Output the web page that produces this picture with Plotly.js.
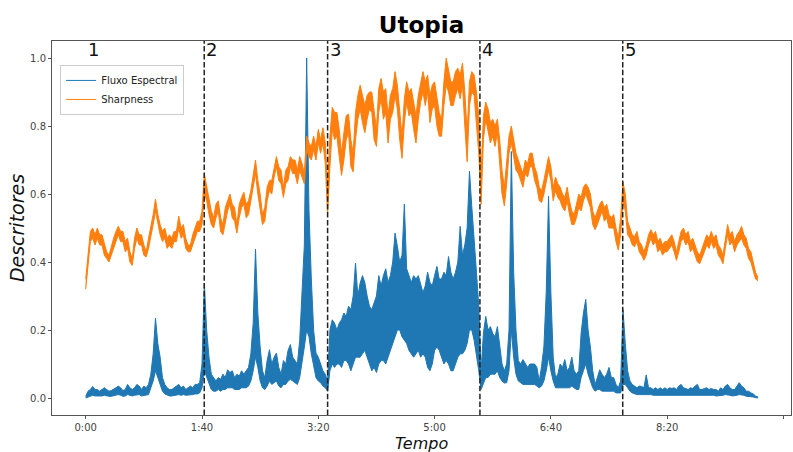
<!DOCTYPE html>
<html>
<head>
<meta charset="utf-8">
<script src="https://cdn.plot.ly/plotly-3.0.1.min.js"></script>
<style>
  html, body { margin: 0; padding: 0; background: #fff; }
  #chart { width: 793px; height: 452px; }
</style>
</head>
<body>
<div id="chart"></div>
<script>
// Both descriptors are summarised every 2 seconds (from 0:00) by the
// highest and lowest value reached inside each 2-second window.
const passoSegundos = 2;

// Fluxo Espectral (normalised spectral flux): window maxima and minima.
const fluxoMax = [
  .005, .02, .025, .034, .025, .025, .02, .025, .03, .025,
  .02, .022, .025, .03, .035, .03, .022, .025, .04, .03,
  .025, .03, .04, .035, .025, .035, .03, .04, .07, .13,
  .235, .16, .12, .06, .04, .03, .025, .025, .03, .035,
  .04, .03, .035, .025, .03, .035, .03, .04, .04, .045,
  .10, .338, .20, .12, .07, .06, .05, .06, .055, .07,
  .06, .083, .075, .08, .06, .07, .064, .08, .07, .08,
  .09, .13, .22, .438, .25, .15, .08, .06, .11, .142,
  .10, .12, .132, .09, .07, .11, .10, .14, .157, .12,
  .11, .10, .17, .30, .45, 1.0, .55, .35, .20, .132,
  .12, .10, .08, .07, .05, .20, .23, .22, .20, .22,
  .23, .25, .24, .27, .26, .30, .397, .30, .338, .36,
  .34, .30, .27, .26, .28, .30, .36, .33, .36, .38,
  .34, .36, .40, .485, .446, .40, .42, .57, .38, .36,
  .34, .36, .35, .36, .33, .31, .33, .37, .34, .33,
  .36, .387, .35, .35, .37, .36, .416, .37, .35, .37,
  .40, .505, .42, .45, .50, .667, .563, .45, .37, .27,
  .08, .19, .24, .20, .21, .19, .18, .21, .15, .10,
  .08, .10, .20, .725, .37, .20, .11, .10, .113, .10,
  .09, .10, .10, .10, .09, .05, .093, .15, .31, .593,
  .31, .12, .06, .07, .10, .09, .113, .08, .09, .12,
  .08, .07, .08, .19, .25, .29, .20, .15, .08, .04,
  .06, .083, .07, .06, .07, .09, .06, .06, .04, .03,
  .05, .26, .16, .08, .05, .04, .035, .03, .035, .034,
  .03, .068, .03, .03, .025, .03, .025, .03, .025, .03,
  .025, .03, .028, .03, .025, .035, .04, .03, .028, .025,
  .03, .028, .035, .04, .025, .025, .028, .03, .025, .028,
  .025, .025, .02, .03, .025, .035, .04, .03, .025, .025,
  .035, .045, .035, .03, .02, .02, .015, .012, .006, .003
];
const fluxoMin = [
  0, .003, .005, .008, .006, .006, .005, .006, .008, .006,
  .005, .005, .006, .008, .01, .008, .005, .006, .01, .008,
  .006, .008, .01, .01, .006, .008, .008, .01, .03, .05,
  .08, .06, .04, .02, .012, .008, .006, .006, .008, .008,
  .01, .008, .01, .008, .008, .01, .01, .012, .012, .015,
  .03, .08, .06, .04, .025, .02, .02, .025, .02, .025,
  .025, .03, .03, .03, .025, .025, .025, .03, .03, .03,
  .035, .05, .08, .12, .09, .05, .03, .025, .035, .05,
  .04, .045, .05, .035, .03, .04, .04, .05, .055, .05,
  .045, .04, .06, .10, .15, .20, .18, .13, .09, .06,
  .05, .045, .035, .03, .02, .08, .10, .09, .10, .10,
  .09, .11, .11, .10, .08, .10, .12, .12, .12, .13,
  .14, .12, .10, .08, .09, .075, .10, .11, .11, .10,
  .12, .14, .16, .18, .20, .20, .18, .17, .16, .14,
  .13, .12, .13, .14, .12, .13, .12, .09, .08, .10,
  .14, .15, .14, .12, .10, .11, .10, .08, .08, .10,
  .12, .13, .13, .14, .16, .20, .20, .17, .13, .08,
  .025, .04, .06, .06, .07, .07, .07, .08, .06, .05,
  .044, .045, .08, .20, .12, .07, .05, .045, .04, .04,
  .04, .04, .04, .04, .035, .03, .035, .05, .08, .12,
  .08, .05, .03, .03, .03, .03, .03, .03, .03, .035,
  .03, .025, .025, .06, .08, .10, .07, .05, .03, .02,
  .025, .025, .02, .02, .02, .02, .02, .02, .015, .015,
  .015, .04, .04, .03, .02, .015, .012, .01, .01, .01,
  .01, .012, .01, .01, .008, .008, .008, .01, .008, .008,
  .008, .01, .008, .008, .008, .01, .01, .01, .008, .008,
  .01, .008, .01, .01, .008, .008, .008, .008, .008, .008,
  .008, .006, .006, .008, .008, .01, .01, .008, .006, .006,
  .008, .01, .01, .008, .005, .005, .004, .003, .001, 0
];

// Sharpness (normalised): window maxima and minima.
const sharpnessMax = [
  .35, .43, .49, .50, .48, .50, .48, .48, .45, .43,
  .42, .45, .47, .49, .505, .49, .49, .46, .47, .43,
  .41, .47, .50, .48, .48, .45, .43, .47, .50, .54,
  .585, .54, .51, .49, .50, .47, .48, .47, .49, .49,
  .535, .50, .51, .47, .45, .45, .48, .50, .52, .52,
  .55, .66, .62, .58, .55, .53, .57, .58, .53, .51,
  .56, .58, .60, .57, .56, .51, .57, .59, .605, .57,
  .58, .61, .65, .70, .64, .60, .54, .56, .62, .64,
  .64, .68, .71, .68, .67, .62, .67, .68, .71, .70,
  .70, .67, .71, .69, .66, .77, .75, .74, .77, .74,
  .79, .76, .795, .75, .62, .77, .855, .84, .84, .79,
  .72, .78, .83, .835, .76, .72, .84, .89, .92, .89,
  .86, .89, .90, .90, .84, .79, .91, .94, .90, .91,
  .83, .89, .91, .96, .92, .84, .77, .88, .93, .90,
  .91, .87, .83, .89, .93, .96, .93, .95, .89, .92,
  .93, .88, .84, .82, .93, 1.0, .96, .93, .93, .96,
  .97, .95, .985, .90, .78, .93, .96, .95, .90, .83,
  .66, .83, .87, .85, .81, .82, .80, .82, .76, .67,
  .62, .69, .77, .80, .76, .72, .70, .68, .66, .70,
  .69, .72, .72, .68, .66, .62, .61, .64, .68, .71,
  .68, .62, .65, .63, .62, .60, .59, .62, .58, .55,
  .54, .57, .60, .59, .62, .63, .62, .60, .55, .53,
  .55, .57, .58, .56, .57, .54, .53, .54, .50, .47,
  .53, .635, .60, .52, .50, .48, .475, .49, .46, .45,
  .43, .45, .48, .495, .48, .49, .46, .47, .45, .46,
  .46, .47, .48, .46, .43, .46, .49, .50, .48, .49,
  .46, .47, .45, .43, .42, .44, .46, .48, .47, .49,
  .47, .48, .45, .44, .42, .47, .51, .48, .49, .46,
  .48, .49, .505, .48, .47, .44, .43, .40, .37, .355
];
const sharpnessMin = [
  .32, .40, .46, .47, .45, .47, .45, .45, .42, .41,
  .40, .42, .44, .46, .48, .46, .46, .43, .44, .40,
  .39, .44, .47, .45, .45, .42, .415, .44, .47, .51,
  .55, .51, .48, .46, .47, .44, .45, .44, .46, .46,
  .50, .47, .48, .44, .43, .43, .45, .47, .49, .49,
  .51, .60, .58, .54, .51, .50, .53, .55, .49, .48,
  .52, .55, .57, .53, .52, .485, .53, .56, .57, .53,
  .54, .58, .61, .66, .60, .56, .51, .52, .58, .61,
  .60, .65, .68, .64, .63, .59, .63, .64, .68, .66,
  .66, .63, .67, .65, .63, .73, .71, .70, .73, .70,
  .75, .72, .75, .69, .54, .68, .79, .76, .77, .71,
  .655, .70, .76, .78, .68, .665, .76, .82, .85, .81,
  .78, .82, .85, .84, .76, .74, .84, .88, .82, .84,
  .75, .82, .84, .89, .85, .76, .705, .81, .87, .83,
  .84, .79, .75, .82, .87, .90, .86, .90, .81, .85,
  .86, .80, .77, .77, .86, .92, .90, .86, .86, .89,
  .91, .88, .92, .80, .695, .86, .90, .89, .81, .72,
  .57, .76, .82, .79, .75, .77, .74, .78, .69, .60,
  .565, .63, .72, .75, .71, .67, .66, .64, .62, .66,
  .65, .68, .68, .64, .62, .58, .575, .60, .64, .67,
  .64, .58, .61, .59, .58, .56, .55, .58, .54, .51,
  .51, .53, .56, .55, .58, .60, .58, .56, .51, .495,
  .51, .53, .55, .52, .53, .50, .50, .50, .46, .435,
  .48, .58, .55, .48, .47, .45, .445, .46, .43, .42,
  .405, .42, .45, .47, .45, .46, .43, .44, .42, .43,
  .43, .44, .45, .43, .405, .43, .46, .47, .45, .46,
  .43, .44, .42, .40, .395, .41, .43, .45, .44, .46,
  .44, .45, .42, .41, .395, .44, .48, .45, .46, .43,
  .45, .46, .47, .45, .44, .41, .40, .375, .35, .345
];

// Section boundaries (seconds) and the section numbers written at the top.
const divisoes = [101.9, 208, 339, 461.8];
const inicioSecoes = [0, 101.9, 208, 339, 461.8];
const rotulosSecoes = ['1', '2', '3', '4', '5'];

// Axis ticks.
const tempoTicks = [0, 100, 200, 300, 400, 500, 600];
const tempoRotulos = ['0:00', '1:40', '3:20', '5:00', '6:40', '8:20', '10:00'];
const descritorTicks = [0, 0.2, 0.4, 0.6, 0.8, 1.0];

const tempo = fluxoMax.map((_, i) => i * passoSegundos);

const fonte = 'DejaVu Sans, Verdana, sans-serif';
const azul = '#1f77b4';
const laranja = '#ff7f0e';

// Each descriptor is drawn as the band between its window minima and maxima;
// the minima trace carries the legend entry so the legend shows a plain line.
function faixa(nome, minimos, maximos, cor) {
  return [
    {
      x: tempo, y: minimos, type: 'scatter', mode: 'lines',
      name: nome, legendgroup: nome, showlegend: true,
      line: { color: cor, width: 1 }
    },
    {
      x: tempo, y: maximos, type: 'scatter', mode: 'lines',
      name: nome, legendgroup: nome, showlegend: false,
      fill: 'tonexty', fillcolor: cor,
      line: { color: cor, width: 1 }
    }
  ];
}

const traces = []
  .concat(faixa('Fluxo Espectral', fluxoMin, fluxoMax, azul))
  .concat(faixa('Sharpness', sharpnessMin, sharpnessMax, laranja));

const shapes = divisoes.map(d => ({
  type: 'line', xref: 'x', yref: 'paper',
  x0: d, x1: d, y0: 0, y1: 1,
  line: { color: '#222', width: 1.5, dash: '5.5px,2.4px' }
}));

const annotations = rotulosSecoes.map((r, i) => ({
  x: inicioSecoes[i], y: 1.0, xref: 'x', yref: 'y',
  text: r, showarrow: false,
  xanchor: 'left', yanchor: 'bottom',
  xshift: 0, yshift: -4,
  font: { family: fonte, size: 18, color: '#111' }
}));

// x-axis title, set just below the tick labels
annotations.push({
  x: 0.5, y: 0, xref: 'paper', yref: 'paper',
  text: 'Tempo', showarrow: false,
  xanchor: 'center', yanchor: 'top', yshift: -17,
  font: { family: fonte, size: 16, color: '#111', style: 'italic' }
});

const eixoComum = {
  showline: true, mirror: true, linecolor: '#555', linewidth: 1,
  ticks: 'outside', ticklen: 3, tickcolor: '#555', tickwidth: 1,
  showgrid: false, zeroline: false,
  tickfont: { family: fonte, size: 10, color: '#444' }
};

const layout = {
  width: 793, height: 452,
  margin: { l: 52, r: 2, t: 41, b: 37 },
  paper_bgcolor: '#fff', plot_bgcolor: '#fff',
  title: {
    text: '<b>Utopia</b>',
    font: { family: fonte, size: 23, color: '#000' },
    x: 0.5, xref: 'paper', xanchor: 'center',
    y: 0.945, yref: 'container', yanchor: 'middle'
  },
  xaxis: Object.assign({}, eixoComum, {
    range: [-29, 606.5],
    tickvals: tempoTicks, ticktext: tempoRotulos
  }),
  yaxis: Object.assign({}, eixoComum, {
    range: [-0.05, 1.05],
    tickvals: descritorTicks, tickformat: '.1f',
    title: { text: 'Descritores', standoff: 0,
             font: { family: fonte, size: 19, color: '#111', style: 'italic' } }
  }),
  legend: {
    x: 0.011, y: 0.936, xanchor: 'left', yanchor: 'top',
    tracegroupgap: 0,
    bgcolor: 'rgba(255,255,255,0.85)', bordercolor: '#ccc', borderwidth: 1,
    font: { family: fonte, size: 10, color: '#222' }
  },
  shapes: shapes,
  annotations: annotations,
  showlegend: true
};

Plotly.newPlot('chart', traces, layout, { displayModeBar: false, staticPlot: true });
</script>
</body>
</html>
